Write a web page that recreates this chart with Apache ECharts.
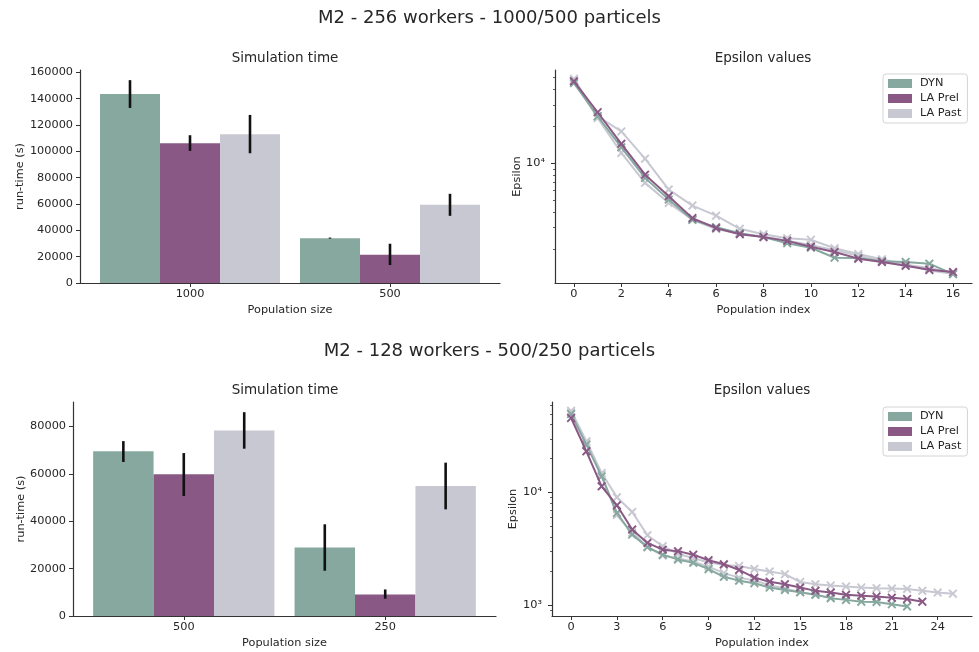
<!DOCTYPE html>
<html><head><meta charset="utf-8">
<script src="https://cdn.jsdelivr.net/npm/echarts@6/dist/echarts.min.js"></script>
<style>html,body{margin:0;padding:0;background:#fff}#c{width:979px;height:652px}</style>
</head><body><div id="c"></div>
<script>
// ---------------- data ----------------
const strategies = ['DYN', 'LA Prel', 'LA Past'];
const mainTitleTop = 'M2 - 256 workers - 1000/500 particels';
const mainTitleBottom = 'M2 - 128 workers - 500/250 particels';

// Simulation time (top: 256 workers)
const popSizesTop = ['1000', '500'];
const timeTopDYN = [143500, 34000];
const timeTopPrel = [106000, 21500];
const timeTopPast = [113000, 59400];
const errTopDYN = [[132900, 154000], [33700, 34500]];
const errTopPrel = [[100300, 112200], [13600, 29800]];
const errTopPast = [[98500, 127600], [51000, 67700]];
const timeTicksTop = [0, 20000, 40000, 60000, 80000, 100000, 120000, 140000, 160000];

// Simulation time (bottom: 128 workers)
const popSizesBottom = ['500', '250'];
const timeBotDYN = [69500, 28900];
const timeBotPrel = [59800, 9100];
const timeBotPast = [78300, 54900];
const errBotDYN = [[65000, 73800], [19100, 38700]];
const errBotPrel = [[50650, 68750], [7300, 11200]];
const errBotPast = [[70600, 86000], [45000, 64700]];
const timeTicksBottom = [0, 20000, 40000, 60000, 80000];

// Epsilon values (top)
const epsTopDYN  = [45200, 24200, 13500, 7590, 5050, 3450, 3000, 2680, 2490, 2220, 2040, 1690, 1680, 1580, 1560, 1510, 1240];
const epsTopPrel = [46700, 26100, 14400, 8070, 5380, 3560, 2950, 2630, 2490, 2320, 2080, 1880, 1660, 1560, 1450, 1345, 1290];
const epsTopPast = [49000, 24200, 18200, 10900, 6090, 4510, 3730, 2910, 2630, 2440, 2370, 2020, 1810, 1640, 1480, 1390, 1270];
const epsTopPast2 = [47500, 23400, 12140, 6910, 4740, 3450, 2900, 2650, 2520, 2330, 2150, 1950, 1750, 1600, 1480, 1330, 1250];
const idxTicksTop = [0, 2, 4, 6, 8, 10, 12, 14, 16];

// Epsilon values (bottom)
const epsBotDYN  = [49800, 26600, 13900, 6570, 4220, 3260, 2800, 2530, 2370, 2080, 1780, 1645, 1560, 1430, 1360, 1300, 1230, 1150, 1110, 1070, 1065, 1015, 970];
const epsBotPrel = [45900, 23200, 11350, 7690, 4680, 3560, 3100, 3010, 2800, 2500, 2300, 2050, 1750, 1610, 1530, 1430, 1335, 1290, 1230, 1210, 1190, 1160, 1130, 1070];
const epsBotPast = [53200, 28500, 14900, 9060, 6710, 4170, 3330, 2850, 2600, 2400, 2270, 2220, 2090, 1980, 1880, 1600, 1530, 1490, 1460, 1430, 1410, 1400, 1390, 1335, 1290, 1260];
const epsBotPast2 = [51000, 27500, 14300, 6300, 4400, 3300, 2750, 2600, 2420, 2190, 1920, 1750, 1650, 1500, 1400, 1300, 1240, 1160];
const idxTicksBottom = [0, 3, 6, 9, 12, 15, 18, 21, 24];

// log-axis ticks
const epsMajorTicks = [1000, 10000];
const epsMajorLabels = ['10\u00b3', '10\u2074'];
const epsMinorTicks = [900, 2000, 3000, 4000, 5000, 6000, 7000, 8000, 9000, 20000, 30000, 40000, 50000, 60000];

// ---------------- style ----------------
const FONT = 'DejaVu Sans';
const TXT = '#262626';
const AX = '#333333';
const COL = { 'DYN': '#86a89e', 'LA Prel': '#895885', 'LA Past': '#c8c8d2' };
const XSYM = 'path://M1.5,0L5,3.5L8.5,0L10,1.5L6.5,5L10,8.5L8.5,10L5,6.5L1.5,10L0,8.5L3.5,5L0,1.5Z';

function valueXAxis(grid, min, max, ticks, fmt, name) {
  return {
    type: 'value', gridIndex: grid, min: min, max: max, position: 'bottom',
    name: name, nameLocation: 'middle', nameGap: 22,
    nameTextStyle: { fontFamily: FONT, fontSize: 11.3, color: TXT },
    axisLine: { show: true, onZero: false, lineStyle: { color: AX, width: 1.2 } },
    axisTick: { show: true, length: 4, customValues: ticks, lineStyle: { color: AX, width: 1 } },
    axisLabel: { customValues: ticks, formatter: fmt, margin: 6, fontFamily: FONT, fontSize: 11.3, color: TXT },
    splitLine: { show: false }
  };
}
function timeYAxis(grid, max, ticks, nameGap) {
  return {
    type: 'value', gridIndex: grid, min: 0, max: max, position: 'left',
    name: 'run-time (s)', nameLocation: 'middle', nameGap: nameGap,
    nameTextStyle: { fontFamily: FONT, fontSize: 11.3, color: TXT },
    axisLine: { show: true, onZero: false, lineStyle: { color: AX, width: 1.2 } },
    axisTick: { show: true, length: 4, customValues: ticks, lineStyle: { color: AX, width: 1 } },
    axisLabel: { customValues: ticks, formatter: v => String(v), margin: 7, fontFamily: FONT, fontSize: 11.3, color: TXT },
    splitLine: { show: false }
  };
}
function logYAxis(grid, min, max, nameGap) {
  const maj = epsMajorTicks.filter(v => v >= min && v <= max);
  return {
    type: 'log', logBase: 10, gridIndex: grid, min: min, max: max, position: 'left',
    name: 'Epsilon', nameLocation: 'middle', nameGap: nameGap,
    nameTextStyle: { fontFamily: FONT, fontSize: 11.3, color: TXT },
    axisLine: { show: true, onZero: false, lineStyle: { color: AX, width: 1.2 } },
    axisTick: { show: true, length: 4, customValues: maj, lineStyle: { color: AX, width: 1 } },
    axisLabel: { customValues: maj, formatter: v => epsMajorLabels[epsMajorTicks.indexOf(Math.round(v))] || '', margin: 10, fontFamily: FONT, fontSize: 11.3, color: TXT },
    splitLine: { show: false }
  };
}
function minorLogYAxis(grid, min, max) {
  const mn = epsMinorTicks.filter(v => v >= min && v <= max);
  return {
    type: 'log', logBase: 10, gridIndex: grid, min: min, max: max, position: 'left', offset: 0,
    axisLine: { show: false, onZero: false },
    axisTick: { show: true, length: 2, customValues: mn, lineStyle: { color: AX, width: 0.8 } },
    axisLabel: { show: false },
    splitLine: { show: false }
  };
}

function barSeries(name, vals, xi, yi) {
  return {
    type: 'bar', name: name, xAxisIndex: xi, yAxisIndex: yi,
    data: vals.map((v, i) => [i, v]),
    barWidth: '30%', barGap: '0%',
    itemStyle: { color: COL[name] }, z: 2
  };
}
function errSeries(errs, xi, yi) {
  const data = [];
  errs.forEach((e, s) => e.forEach((r, c) => data.push([c, r[0], r[1], s])));
  return {
    type: 'custom', xAxisIndex: xi, yAxisIndex: yi, data: data, z: 5,
    encode: { x: 0, y: [1, 2] },
    renderItem: function (params, api) {
      const c = api.value(0), s = api.value(3);
      const band = api.size([1, 0])[0];
      const p1 = api.coord([c, api.value(1)]);
      const p2 = api.coord([c, api.value(2)]);
      const x = p1[0] + (s - 1) * band * 0.3;
      return { type: 'line', shape: { x1: x, y1: p1[1], x2: x, y2: p2[1] }, style: { stroke: '#111', lineWidth: 2.6 } };
    }
  };
}
function lineSeries(name, vals, xi, yi, z) {
  return {
    type: 'line', name: name, xAxisIndex: xi, yAxisIndex: yi,
    data: vals.map((v, i) => [i, v]),
    symbol: XSYM, symbolSize: 9, showSymbol: true,
    lineStyle: { color: COL[name], width: 2 },
    itemStyle: { color: COL[name] }, z: z
  };
}
function legend(top) {
  return {
    data: strategies, orient: 'vertical', left: 883, top: top, icon: 'rect',
    itemWidth: 24, itemHeight: 9, itemGap: 4, selectedMode: false,
    borderColor: '#d4d4d4', borderWidth: 1, borderRadius: 3, padding: [4, 6, 4, 5],
    backgroundColor: 'rgba(255,255,255,0.85)',
    textStyle: { fontFamily: FONT, fontSize: 11.3, color: TXT, padding: [0, 0, 0, 3] }
  };
}
function txt(s, x, y, size) {
  return { type: 'text', x: x, y: y, z: 10,
    style: { text: s, fontFamily: FONT, fontSize: size, fill: TXT, align: 'center', verticalAlign: 'middle' } };
}

const option = {
  animation: false,
  backgroundColor: '#ffffff',
  graphic: [
    txt(mainTitleTop, 489.5, 18, 18),
    txt('Simulation time', 285, 58, 13.5),
    txt('Epsilon values', 763, 58, 13.5),
    txt(mainTitleBottom, 489.5, 351, 18),
    txt('Simulation time', 285, 390, 13.5),
    txt('Epsilon values', 762, 390, 13.5)
  ],
  legend: [legend(74), legend(407)],
  grid: [
    { left: 80, top: 70, width: 420, height: 213 },
    { left: 555, top: 70, width: 417, height: 213 },
    { left: 73, top: 402, width: 423, height: 214 },
    { left: 552, top: 402, width: 420, height: 214 }
  ],
  xAxis: [
    valueXAxis(0, -0.55, 1.55, [0, 1], v => popSizesTop[Math.round(v)] || '', 'Population size'),
    valueXAxis(1, -0.8, 16.8, idxTicksTop, v => String(v), 'Population index'),
    valueXAxis(2, -0.55, 1.55, [0, 1], v => popSizesBottom[Math.round(v)] || '', 'Population size'),
    valueXAxis(3, -1.25, 26.25, idxTicksBottom, v => String(v), 'Population index')
  ],
  yAxis: [
    timeYAxis(0, 161700, timeTicksTop, 54),
    logYAxis(1, 1050, 57800, 32),
    minorLogYAxis(1, 1050, 57800),
    timeYAxis(2, 90300, timeTicksBottom, 46),
    logYAxis(3, 798, 63700, 33),
    minorLogYAxis(3, 798, 63700)
  ],
  series: [
    barSeries('DYN', timeTopDYN, 0, 0),
    barSeries('LA Prel', timeTopPrel, 0, 0),
    barSeries('LA Past', timeTopPast, 0, 0),
    errSeries([errTopDYN, errTopPrel, errTopPast], 0, 0),
    barSeries('DYN', timeBotDYN, 2, 3),
    barSeries('LA Prel', timeBotPrel, 2, 3),
    barSeries('LA Past', timeBotPast, 2, 3),
    errSeries([errBotDYN, errBotPrel, errBotPast], 2, 3),
    lineSeries('LA Past', epsTopPast2, 1, 1, 3),
    lineSeries('LA Past', epsTopPast, 1, 1, 3),
    lineSeries('DYN', epsTopDYN, 1, 1, 4),
    lineSeries('LA Prel', epsTopPrel, 1, 1, 5),
    lineSeries('LA Past', epsBotPast2, 3, 4, 3),
    lineSeries('LA Past', epsBotPast, 3, 4, 3),
    lineSeries('DYN', epsBotDYN, 3, 4, 4),
    lineSeries('LA Prel', epsBotPrel, 3, 4, 5)
  ]
};
const chart = echarts.init(document.getElementById('c'), null, { renderer: 'canvas' });
chart.setOption(option);
</script></body></html>
